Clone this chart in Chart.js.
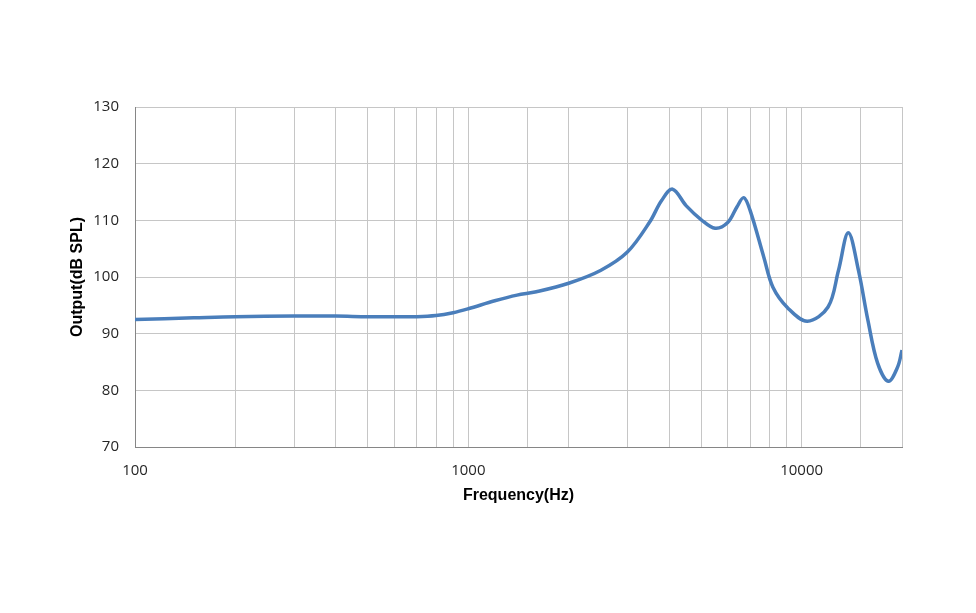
<!DOCTYPE html>
<html>
<head>
<meta charset="utf-8">
<script src="https://cdn.jsdelivr.net/npm/chart.js@4/dist/chart.umd.min.js"></script>
<style>
  body { margin: 0; background: #fff; }
  canvas { display: block; }
</style>
</head>
<body>
<canvas id="myChart" width="976" height="613"></canvas>
<script>
// frequency response
const freqs = [100, 150, 200, 300, 400, 500, 600, 700, 800, 900,
               1000, 1200, 1400, 1600, 2000, 2500, 3000, 3500, 3800, 4100,
               4500, 5000, 5500, 6000, 6400, 6700, 7000, 7700, 8200, 9100,
               10400, 12000, 12900, 13800, 14800, 15800, 16900, 18200, 19400, 20000];
const output = [92.5, 92.8, 93.0, 93.1, 93.1, 93.0, 93.0, 93.0, 93.2, 93.7,
                94.4, 95.8, 96.8, 97.4, 98.9, 101.2, 104.4, 109.7, 113.5, 115.5,
                112.6, 110.1, 108.6, 109.6, 112.4, 114.0, 111.8, 103.5, 98.2, 94.5,
                92.2, 94.7, 101.2, 107.8, 101.2, 92.4, 84.8, 81.6, 84.1, 87.1];
const xLabels = [100, 1000, 10000];

const ctx = document.getElementById('myChart').getContext('2d');

const points = freqs.map((f, i) => ({ x: f, y: output[i] }));

const whiteBg = {
    id: 'whiteBg',
    beforeDraw: (chart) => {
        const c = chart.ctx;
        c.save();
        c.fillStyle = '#ffffff';
        c.fillRect(0, 0, chart.width, chart.height);
        c.restore();
    }
};

const myChart = new Chart(ctx, {
    type: 'line',
    data: {
        datasets: [
            {
                label: 'Output',
                data: points,
                borderColor: '#4a7ebb',
                backgroundColor: '#4a7ebb',
                borderWidth: 3.5,
                pointRadius: 0,
                fill: false,
                tension: 0.35
            }
        ]
    },
    options: {
        responsive: false,
        animation: false,
        layout: {
            padding: { left: 68, right: 74, top: 107, bottom: 108 }
        },
        plugins: {
            legend: { display: false },
            tooltip: { enabled: false }
        },
        scales: {
            x: {
                type: 'logarithmic',
                min: 100,
                max: 20000,
                afterFit: (s) => { s.height = 58; },
                grid: {
                    color: '#c6c6c6',
                    lineWidth: 1,
                    drawTicks: false
                },
                border: { color: '#868686', width: 1 },
                ticks: {
                    padding: 15,
                    autoSkip: false,
                    maxRotation: 0,
                    color: '#262626',
                    font: { family: 'Open Sans', size: 15 },
                    callback: (v) => xLabels.includes(v) ? String(v) : ''
                },
                title: {
                    display: true,
                    text: 'Frequency(Hz)',
                    color: '#000000',
                    font: { family: 'Liberation Sans', size: 16, weight: 'bold' },
                    padding: 0
                }
            },
            y: {
                min: 70,
                max: 130,
                afterFit: (s) => { s.width = 67; },
                grid: {
                    color: '#c6c6c6',
                    lineWidth: 1,
                    drawTicks: false
                },
                border: { color: '#868686', width: 1 },
                ticks: {
                    stepSize: 10,
                    padding: 16,
                    color: '#262626',
                    font: { family: 'Open Sans', size: 15 }
                },
                title: {
                    display: true,
                    text: 'Output(dB SPL)',
                    color: '#000000',
                    font: { family: 'Liberation Sans', size: 16, weight: 'bold' },
                    padding: 0
                }
            }
        }
    },
    plugins: [whiteBg]
});
</script>
</body>
</html>
